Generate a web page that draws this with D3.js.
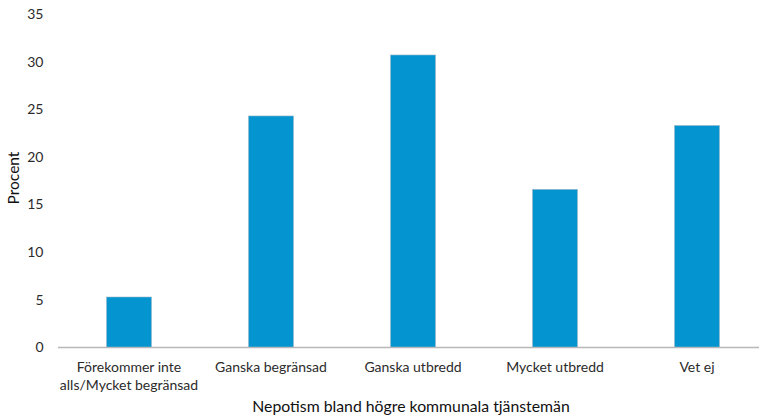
<!DOCTYPE html>
<html>
<head>
<meta charset="utf-8">
<script src="https://cdn.jsdelivr.net/npm/d3@7"></script>
<style>
  html, body { margin: 0; padding: 0; background: #fff; }
  svg { display: block; font-family: Lato, "Open Sans", sans-serif; }
</style>
</head>
<body>
<svg id="chart" width="759" height="420"></svg>
<script>
// Andel svar per kategori (procent)
const categories = [
  ["Förekommer inte", "alls/Mycket begränsad"],
  ["Ganska begränsad"],
  ["Ganska utbredd"],
  ["Mycket utbredd"],
  ["Vet ej"]
];
const values = [5.3, 24.3, 30.7, 16.6, 23.3];
const yTicks = [0, 5, 10, 15, 20, 25, 30, 35];
const xTitle = "Nepotism bland högre kommunala tjänstemän";
const yTitle = "Procent";

const svg = d3.select("#chart");
const keys = categories.map(c => c.join(" "));

const x = d3.scaleBand()
  .domain(keys)
  .range([58, 768])
  .paddingInner(0.683)
  .paddingOuter(0.3415);

const y = d3.scaleLinear()
  .domain([0, 35])
  .range([347.5, 14]);

// y tick labels (no gridlines, no axis line)
svg.append("g")
  .selectAll("text")
  .data(yTicks)
  .join("text")
  .attr("x", 43.5)
  .attr("y", d => y(d))
  .attr("dy", "0.35em")
  .attr("text-anchor", "end")
  .attr("fill", "#2b2b2b")
  .attr("font-size", 14)
  .text(d => d);

// bars
svg.append("g")
  .selectAll("rect")
  .data(values)
  .join("rect")
  .attr("x", (d, i) => x(keys[i]))
  .attr("y", d => y(d))
  .attr("width", x.bandwidth())
  .attr("height", d => y(0) - y(d))
  .attr("fill", "#0494d0")
  .attr("stroke", "#9fb8c6")
  .attr("stroke-width", 0.6);

// category axis
svg.append("line")
  .attr("x1", x.range()[0]).attr("x2", x.range()[1])
  .attr("y1", y(0)).attr("y2", y(0))
  .attr("stroke", "#b8b8b8")
  .attr("stroke-width", 1.3);

const catLabels = svg.append("g")
  .selectAll("text")
  .data(categories)
  .join("text")
  .attr("x", (d, i) => x(keys[i]) + x.bandwidth() / 2)
  .attr("y", 372)
  .attr("text-anchor", "middle")
  .attr("fill", "#2b2b2b")
  .attr("font-size", 14);

catLabels.selectAll("tspan")
  .data(d => d)
  .join("tspan")
  .attr("x", function () { return d3.select(this.parentNode).attr("x"); })
  .attr("dy", (d, i) => i === 0 ? 0 : 18)
  .text(d => d);

// axis titles
svg.append("text")
  .attr("x", 411)
  .attr("y", 412)
  .attr("text-anchor", "middle")
  .attr("fill", "#111")
  .attr("font-size", 15.8)
  .text(xTitle);

svg.append("text")
  .attr("transform", "translate(19,178) rotate(-90)")
  .attr("text-anchor", "middle")
  .attr("fill", "#111")
  .attr("font-size", 15.5)
  .text(yTitle);
</script>
</body>
</html>
